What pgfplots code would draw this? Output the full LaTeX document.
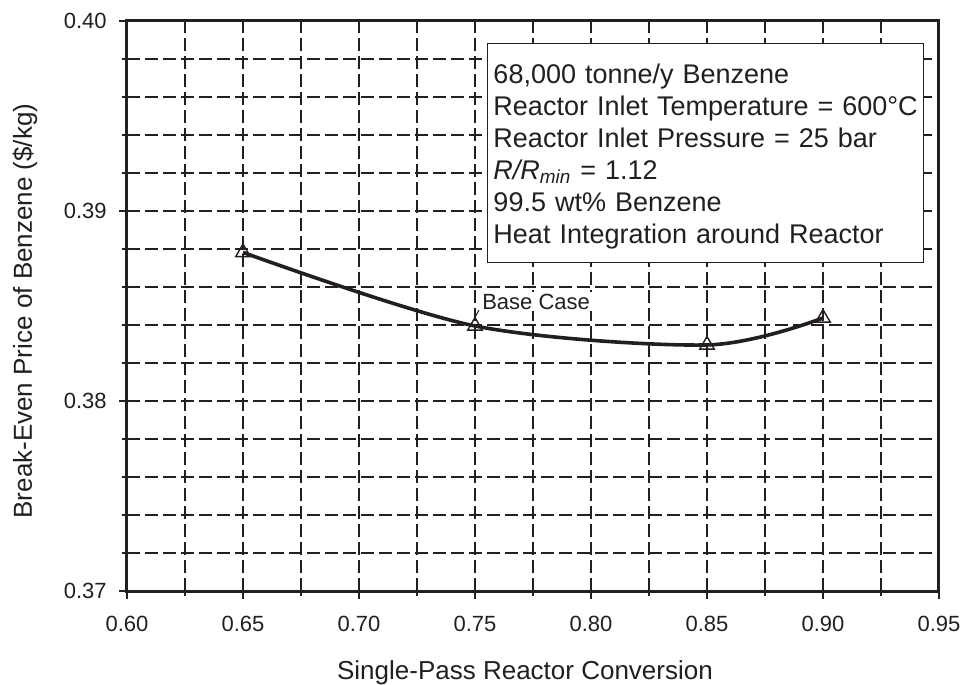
\documentclass[border=0pt]{standalone}
\usepackage{pgfplots}
\pgfplotsset{compat=1.18}
\usepackage{fontspec}
\setmainfont{Liberation Sans}
\definecolor{ink}{HTML}{231F20}
\begin{document}
\begin{tikzpicture}
\begin{axis}[
  scale only axis, width=406pt, height=285pt,
  at={(0,0)}, anchor=south west,
  xmin=0.60, xmax=0.95, ymin=0.37, ymax=0.40,
  xtick={0.60,0.65,0.70,0.75,0.80,0.85,0.90,0.95},
  ytick={0.37,0.38,0.39,0.40},
  minor x tick num=1, minor y tick num=4,
  grid=both,
  grid style={ink, line width=0.6pt, dash pattern=on 6.5pt off 2.5pt},
  major grid style={ink, line width=0.6pt, dash pattern=on 6.5pt off 2.5pt},
  minor grid style={ink, line width=0.6pt, dash pattern=on 6.5pt off 2.5pt},
  axis line style={ink, line width=1.5pt},
  tick style={ink, line width=0.6pt, solid},
  tick align=outside, xtick pos=bottom, ytick pos=left,
  major tick length=4pt, minor tick length=2.5pt,
  /pgf/number format/assume math mode=true,
  ticklabel style={font=\fontsize{11}{13}\selectfont, text=ink, inner sep=0pt,
    /pgf/number format/fixed, /pgf/number format/fixed zerofill, /pgf/number format/precision=2},
  xticklabel style={anchor=base, yshift=-16pt},
  yticklabel style={anchor=east, xshift=-6pt},
  xlabel={Single-Pass Reactor Conversion},
  xlabel style={font=\fontsize{13}{15}\selectfont, text=ink, inner sep=0pt, anchor=base,
    at={([xshift=-4pt,yshift=-44pt]rel axis cs:0.5,0)}},
  ylabel={Break-Even Price of Benzene (\$/kg)},
  ylabel style={font=\fontsize{13}{15}\selectfont, text=ink, inner sep=0pt, anchor=base,
    at={([xshift=-47.5pt,yshift=-2.5pt]rel axis cs:0,0.5)}},
]
\addplot[ink, line width=1.8pt, smooth, mark=triangle, mark size=4.2pt,
  mark options={fill=white, line width=0.7pt, solid}]
  coordinates {(0.65,0.38782) (0.75,0.38395) (0.85,0.38295) (0.90,0.38437)};
\node[anchor=base west, fill=white, inner sep=1pt, font=\fontsize{11}{13}\selectfont, text=ink]
  at (axis cs:0.7521,0.38484) {Base Case};
\draw[ink, line width=0.5pt] (axis cs:0.7500,0.38440) -- (axis cs:0.7517,0.38479);
\node[anchor=north west, draw=ink, line width=0.5pt, fill=white, inner xsep=3pt, inner ysep=0pt,
  text width=212pt, align=left, font=\fontsize{13.5}{16}\selectfont, text=ink]
  at (axis cs:0.75517,0.398842)
  {\rule{0pt}{20pt}68,000 tonne/y Benzene\\
   \mbox{Reactor Inlet Temperature = 600°C}\\
   Reactor Inlet Pressure = 25 bar\\
   \textit{R/R}\textsubscript{\textit{min}} = 1.12\\
   99.5 wt\% Benzene\\
   Heat Integration around Reactor\rule[-9.5pt]{0pt}{9.5pt}};
\end{axis}
\pgfresetboundingbox
\path[use as bounding box] (-63.5pt,-47pt) rectangle (418.5pt,295.5pt);
\end{tikzpicture}
\end{document}
